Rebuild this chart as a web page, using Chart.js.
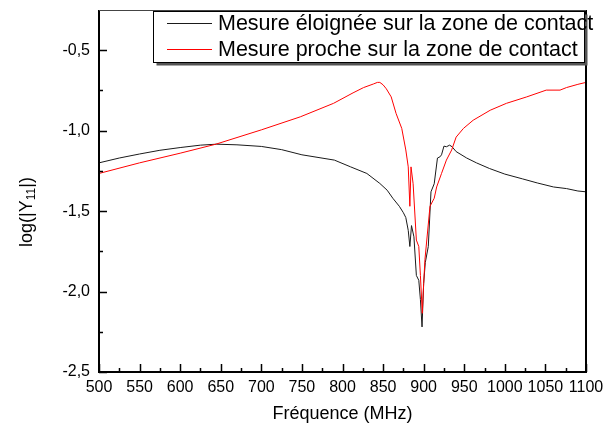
<!DOCTYPE html>
<html>
<head>
<meta charset="utf-8">
<script src="https://cdn.jsdelivr.net/npm/chart.js@4"></script>
<style>
  html, body { margin: 0; padding: 0; background: #fff; }
  #wrap { width: 605px; height: 432px; }
</style>
</head>
<body>
<div id="wrap"><canvas id="myChart"></canvas></div>
<script>
// frequencies (MHz) and log(|Y11|)
var freqFar = [500, 525, 550, 575, 600, 625, 645, 670, 700, 725, 750, 790, 810, 830, 846, 855, 862, 870, 875, 878, 881, 883, 885, 888, 891, 894, 896, 898, 900, 902, 905.7, 909, 913, 917, 920, 922, 925, 928, 932, 935, 940, 953, 965, 981, 1000, 1022, 1040, 1060, 1076, 1090, 1100];
var valFar = [-1.200, -1.170, -1.145, -1.122, -1.105, -1.090, -1.084, -1.088, -1.098, -1.118, -1.150, -1.183, -1.225, -1.266, -1.328, -1.370, -1.420, -1.470, -1.510, -1.540, -1.620, -1.720, -1.590, -1.660, -1.900, -1.930, -2.050, -2.220, -1.950, -1.820, -1.720, -1.380, -1.330, -1.170, -1.163, -1.150, -1.096, -1.100, -1.090, -1.100, -1.130, -1.170, -1.200, -1.235, -1.270, -1.300, -1.325, -1.350, -1.360, -1.375, -1.380];

var freqNear = [500, 550, 600, 644, 700, 748, 789, 813, 826, 838, 843, 846, 850, 854, 860, 866, 873, 878, 881, 883, 884.4, 887, 891, 894, 896, 898.3, 900, 901.6, 907.8, 913, 916, 922, 928, 934.5, 940, 949, 961, 982, 1002, 1027, 1051, 1068, 1076, 1090, 1100];
var valNear = [-1.266, -1.200, -1.140, -1.084, -0.995, -0.914, -0.830, -0.765, -0.732, -0.710, -0.700, -0.700, -0.715, -0.740, -0.790, -0.893, -0.986, -1.120, -1.225, -1.470, -1.225, -1.330, -1.680, -1.720, -1.900, -2.135, -1.950, -1.800, -1.470, -1.420, -1.350, -1.266, -1.183, -1.120, -1.040, -0.986, -0.935, -0.873, -0.830, -0.790, -0.748, -0.748, -0.732, -0.712, -0.700];

var labels = ["Mesure éloignée sur la zone de contact", "Mesure proche sur la zone de contact"];

function pts(xs, ys) {
  return xs.map(function (x, i) { return { x: x, y: ys[i] }; });
}

var FONT = "'Liberation Sans', Arial, sans-serif";

// inward ticks, frame, y title with subscript, legend box
var decor = {
  id: 'decor',
  afterDraw: function (chart) {
    var c = chart.ctx, a = chart.chartArea;
    var xs = chart.scales.x, ys = chart.scales.y;
    c.save();
    c.strokeStyle = '#000';
    c.lineWidth = 1.5;
    c.beginPath();
    for (var f = 500; f <= 1100; f += 25) {
      var px = Math.round(xs.getPixelForValue(f)) + 0.5;
      var len = (f % 50 === 0) ? 8 : 4;
      c.moveTo(px, a.bottom);
      c.lineTo(px, a.bottom - len);
    }
    for (var k = 0; k <= 8; k++) {
      var v = -2.5 + k * 0.25;
      var py = Math.round(ys.getPixelForValue(v)) + 0.5;
      var l2 = (k % 2 === 0) ? 8 : 4;
      c.moveTo(a.left, py);
      c.lineTo(a.left + l2, py);
    }
    c.stroke();

    // frame
    c.lineWidth = 2;
    c.beginPath();
    c.moveTo(a.left, a.top);
    c.lineTo(a.left, a.bottom);
    c.lineTo(a.right, a.bottom);
    c.lineTo(a.right, a.top);
    c.stroke();
    c.lineWidth = 1;
    c.strokeStyle = '#444';
    c.beginPath();
    c.moveTo(a.left, a.top + 0.5);
    c.lineTo(a.right, a.top + 0.5);
    c.stroke();

    // y title
    c.fillStyle = '#000';
    c.translate(27, 212);
    c.rotate(-Math.PI / 2);
    c.textBaseline = 'middle';
    var big = '18px ' + FONT, small = '12px ' + FONT;
    c.font = big;
    var p1 = 'log(|Y', p3 = '|)';
    var w1 = c.measureText(p1).width, w3 = c.measureText(p3).width;
    c.font = small;
    var w2 = c.measureText('11').width;
    var x0 = -(w1 + w2 + w3) / 2;
    c.font = big;
    c.textAlign = 'left';
    c.fillText(p1, x0, 0);
    c.font = small;
    c.fillText('11', x0 + w1, 5);
    c.font = big;
    c.fillText(p3, x0 + w1 + w2, 0);
    c.setTransform(1, 0, 0, 1, 0, 0);

    // legend
    var bx = 153.5, by = 11.5, bw = 431, bh = 51;
    c.fillStyle = '#555';
    c.fillRect(bx + 3, by + 3, bw, bh);
    c.fillStyle = '#fff';
    c.fillRect(bx, by, bw, bh);
    c.strokeStyle = '#000';
    c.lineWidth = 1;
    c.strokeRect(bx, by, bw, bh);
    c.font = '21.5px ' + FONT;
    c.textAlign = 'left';
    c.textBaseline = 'middle';
    chart.data.datasets.forEach(function (ds, i) {
      var ly = 23 + i * 26;
      c.strokeStyle = ds.borderColor;
      c.beginPath();
      c.moveTo(167, ly + 0.5);
      c.lineTo(212, ly + 0.5);
      c.stroke();
      c.fillStyle = '#000';
      c.fillText(ds.label, 218, ly + 1);
    });
    c.restore();
  }
};

var ctx = document.getElementById("myChart").getContext('2d');
var myChart = new Chart(ctx, {
  type: 'line',
  data: {
    datasets: [{
      label: labels[0],
      data: pts(freqFar, valFar),
      borderColor: '#1a1a1a',
      borderWidth: 1,
      pointRadius: 0,
      tension: 0,
      order: 1
    }, {
      label: labels[1],
      data: pts(freqNear, valNear),
      borderColor: '#ff0000',
      borderWidth: 1,
      pointRadius: 0,
      tension: 0,
      order: 0
    }]
  },
  options: {
    responsive: true,
    maintainAspectRatio: false,
    animation: false,
    layout: { padding: { top: 10, right: 19, left: 0, bottom: 0 } },
    plugins: { legend: { display: false }, tooltip: { enabled: false } },
    scales: {
      x: {
        type: 'linear',
        min: 500,
        max: 1100,
        grid: { display: false, drawTicks: false },
        border: { display: false },
        afterFit: function (s) { s.height = 60; s.paddingLeft = 0; s.paddingRight = 0; },
        ticks: {
          stepSize: 50,
          padding: 6,
          color: '#000',
          maxRotation: 0,
          autoSkip: false,
          font: { family: FONT, size: 16 },
          callback: function (v) { return String(v); }
        },
        title: {
          display: true,
          text: 'Fréquence (MHz)',
          color: '#000',
          font: { family: FONT, size: 18 },
          padding: { top: 0, bottom: 7 }
        }
      },
      y: {
        min: -2.5,
        max: -0.25,
        grid: { display: false, drawTicks: false },
        border: { display: false },
        afterFit: function (s) { s.width = 99; s.paddingTop = 0; s.paddingBottom = 0; },
        ticks: {
          stepSize: 0.5,
          includeBounds: false,
          padding: 9,
          color: '#000',
          font: { family: FONT, size: 16 },
          callback: function (v) { return v.toFixed(1).replace('.', ','); }
        }
      }
    }
  },
  plugins: [decor]
});
</script>
</body>
</html>
